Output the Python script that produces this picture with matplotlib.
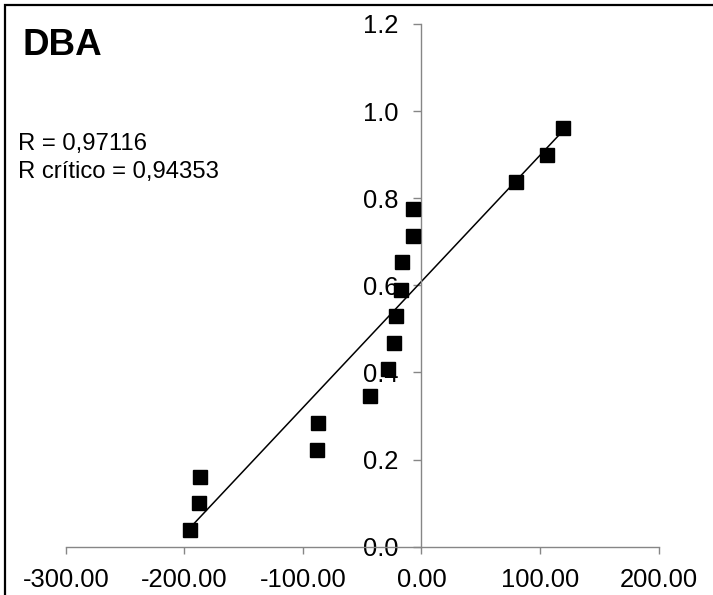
import numpy as np
import matplotlib
matplotlib.use("Agg")
import matplotlib.pyplot as plt
from matplotlib.patches import Rectangle
from matplotlib.ticker import FormatStrFormatter

plt.rcParams['font.family'] = ['Liberation Sans', 'DejaVu Sans']

# DBA residuals and their cumulative plotting positions
x_vals = [-195.5, -187.9, -187.0, -88.2, -87.4, -43.5, -28.6, -23.6,
          -21.4, -17.2, -16.3, -7.3, -7.1, 79.4, 106.1, 119.3]
p_vals = [0.039, 0.101, 0.161, 0.223, 0.285, 0.345, 0.407, 0.468,
          0.529, 0.590, 0.653, 0.714, 0.775, 0.837, 0.899, 0.961]

x_ticks = [-300, -200, -100, 0, 100, 200]
y_ticks = [0.0, 0.2, 0.4, 0.6, 0.8, 1.0, 1.2]

title = "DBA"
stats_lines = ["R = 0,97116", "R crítico = 0,94353"]

axis_gray = "#868686"

fig = plt.figure(figsize=(7.13, 5.95), dpi=100)
ax = fig.add_axes([0.0923, 0.0812, 0.8314, 0.8785])

ax.set_xlim(x_ticks[0], x_ticks[-1])
ax.set_ylim(y_ticks[0], y_ticks[-1])

# linear trend through the points
slope, intercept = np.polyfit(x_vals, p_vals, 1)
xs = np.array([min(x_vals), max(x_vals)])
ax.plot(xs, slope * xs + intercept, color="black", lw=1.1, zorder=2,
        clip_on=False)

ax.plot(x_vals, p_vals, linestyle="none", marker="s", markersize=10.3,
        color="black", zorder=3, clip_on=False)

# axes crossing at the origin
for side in ("top", "right"):
    ax.spines[side].set_visible(False)
ax.spines["left"].set_position(("data", 0))
ax.spines["bottom"].set_position(("data", 0))
for side in ("left", "bottom"):
    ax.spines[side].set_color(axis_gray)
    ax.spines[side].set_linewidth(1.0)

ax.set_xticks(x_ticks)
ax.set_yticks(y_ticks)
ax.xaxis.set_major_formatter(FormatStrFormatter("%.2f"))
ax.yaxis.set_major_formatter(FormatStrFormatter("%.1f"))
ax.tick_params(axis="x", direction="out", length=5, width=1.0,
               color=axis_gray, labelsize=18.4, pad=10)
ax.tick_params(axis="y", direction="out", length=5.5, width=1.0,
               color=axis_gray, labelsize=18.4, pad=11)

ax.patch.set_visible(False)

fig.text(22.7 / 713, 1 - 55 / 595, title, fontsize=26.5, fontweight="bold",
         ha="left", va="baseline")
fig.text(18.3 / 713, 1 - 150 / 595, stats_lines[0], fontsize=17.2,
         ha="left", va="baseline")
fig.text(18.3 / 713, 1 - 178.3 / 595, stats_lines[1], fontsize=17.2,
         ha="left", va="baseline")

# chart border
fig.patches.append(Rectangle((4.5 / 713, -0.1), 1.2, 1.1 - 5.5 / 595,
                             transform=fig.transFigure, fill=False,
                             edgecolor="black", lw=1.6, zorder=0))

fig.savefig("out.png", dpi=100)
